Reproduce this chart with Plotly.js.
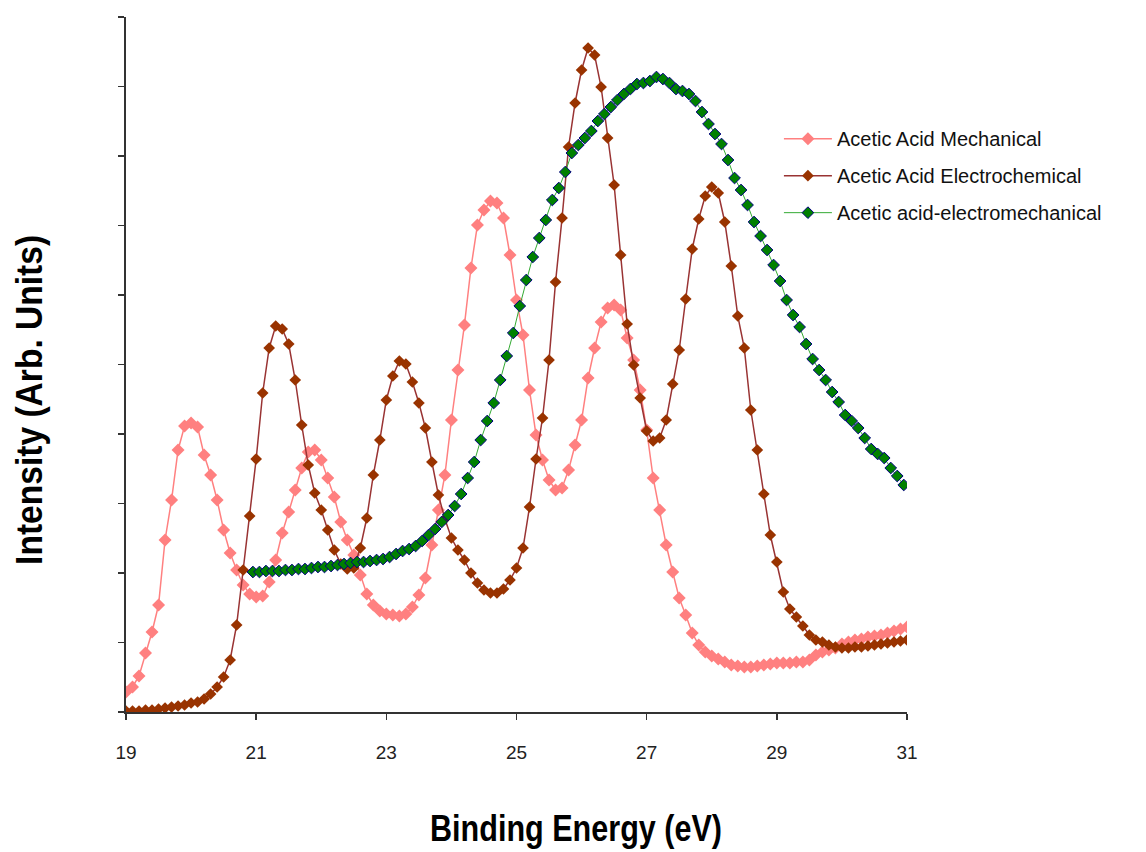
<!DOCTYPE html>
<html>
<head>
<meta charset="utf-8">
<script src="https://cdn.plot.ly/plotly-3.0.1.min.js"></script>
<style>
  html, body { margin: 0; padding: 0; background: #ffffff; }
  #chart { width: 1146px; height: 852px; }
</style>
</head>
<body>
<div id="chart"></div>
<script>
// Binding energy grid (eV) shared by the mechanical and electrochemical spectra
const energyEV = [
  19.0, 19.1, 19.2, 19.3, 19.4, 19.5, 19.6, 19.7, 19.8, 19.9,
  20.0, 20.1, 20.2, 20.3, 20.4, 20.5, 20.6, 20.7, 20.8, 20.9,
  21.0, 21.1, 21.2, 21.3, 21.4, 21.5, 21.6, 21.7, 21.8, 21.9,
  22.0, 22.1, 22.2, 22.3, 22.4, 22.5, 22.6, 22.7, 22.8, 22.9,
  23.0, 23.1, 23.2, 23.3, 23.4, 23.5, 23.6, 23.7, 23.8, 23.9,
  24.0, 24.1, 24.2, 24.3, 24.4, 24.5, 24.6, 24.7, 24.8, 24.9,
  25.0, 25.1, 25.2, 25.3, 25.4, 25.5, 25.6, 25.7, 25.8, 25.9,
  26.0, 26.1, 26.2, 26.3, 26.4, 26.5, 26.6, 26.7, 26.8, 26.9,
  27.0, 27.1, 27.2, 27.3, 27.4, 27.5, 27.6, 27.7, 27.8, 27.9,
  28.0, 28.1, 28.2, 28.3, 28.4, 28.5, 28.6, 28.7, 28.8, 28.9,
  29.0, 29.1, 29.2, 29.3, 29.4, 29.5, 29.6, 29.7, 29.8, 29.9,
  30.0, 30.1, 30.2, 30.3, 30.4, 30.5, 30.6, 30.7, 30.8, 30.9,
  31.0
];

// Acetic acid, mechanical (arb. units)
const mechanical = [
  20, 25, 36, 59, 80, 107, 172, 212, 262, 286,
  289, 285, 257, 237, 212, 182, 159, 142, 127, 118,
  115, 116, 130, 152, 179, 200, 222, 244, 260, 262,
  252, 234, 215, 190, 172, 157, 137, 118, 107, 101,
  98, 97, 96, 98, 105, 117, 134, 167, 202, 237,
  292, 342, 387, 444, 487, 502, 511, 509, 494, 457,
  412, 377, 322, 277, 252, 232, 222, 224, 242, 267,
  292, 334, 364, 390, 404, 407, 402, 374, 352, 322,
  282, 234, 202, 167, 140, 114, 97, 79, 67, 60,
  56, 53, 50, 47, 46, 45, 45, 46, 47, 48,
  49, 49, 49, 50, 50, 52, 57, 60, 62, 64,
  68, 70, 72, 73, 75, 76, 77, 79, 81, 83,
  85
];

// Acetic acid, electrochemical (arb. units)
const electrochemical = [
  1, 1, 1, 2, 2, 3, 4, 5, 6, 7,
  9, 10, 13, 18, 25, 35, 52, 87, 142, 196,
  253, 319, 364, 386, 383, 368, 332, 287, 247, 219,
  202, 182, 162, 148, 143, 144, 164, 194, 237, 272,
  312, 336, 351, 348, 330, 309, 284, 250, 217, 193,
  174, 162, 152, 139, 129, 122, 119, 119, 123, 132,
  144, 164, 205, 253, 294, 352, 430, 494, 565, 609,
  642, 664, 657, 625, 574, 527, 457, 388, 347, 314,
  281, 271, 274, 292, 328, 362, 413, 463, 493, 516,
  525, 519, 490, 446, 396, 364, 302, 262, 218, 177,
  150, 120, 103, 95, 86, 77, 72, 70, 67, 65,
  64, 64, 65, 65, 66, 67, 68, 69, 70, 71,
  72
];

// Binding energy grid (eV) for the electromechanical spectrum
const energyEM = [
  20.95, 21.05, 21.15, 21.25, 21.35, 21.45, 21.55, 21.65, 21.75, 21.85,
  21.95, 22.05, 22.15, 22.25, 22.35, 22.45, 22.55, 22.65, 22.75, 22.85,
  22.95, 23.05, 23.15, 23.25, 23.35, 23.45, 23.55, 23.65, 23.75, 23.85,
  23.95, 24.05, 24.15, 24.25, 24.35, 24.45, 24.55, 24.65, 24.75, 24.85,
  24.95, 25.05, 25.15, 25.25, 25.35, 25.45, 25.55, 25.65, 25.75, 25.85,
  25.95, 26.05, 26.15, 26.25, 26.35, 26.45, 26.55, 26.65, 26.75, 26.85,
  26.95, 27.05, 27.15, 27.25, 27.35, 27.45, 27.55, 27.65, 27.75, 27.85,
  27.95, 28.05, 28.15, 28.25, 28.35, 28.45, 28.55, 28.65, 28.75, 28.85,
  28.95, 29.05, 29.15, 29.25, 29.35, 29.45, 29.55, 29.65, 29.75, 29.85,
  29.95, 30.05, 30.15, 30.25, 30.35, 30.45, 30.55, 30.65, 30.75, 30.85,
  30.95
];

// Acetic acid, electromechanical (arb. units)
const electromechanical = [
  140, 140, 141, 141, 141, 142, 142, 143, 143, 144,
  145, 145, 146, 147, 148, 149, 150, 150, 151, 152,
  153, 155, 158, 161, 163, 166, 171, 177, 183, 190,
  197, 206, 218, 234, 250, 272, 291, 309, 332, 356,
  379, 406, 432, 455, 474, 492, 512, 524, 540, 559,
  567, 574, 581, 591, 598, 605, 612, 618, 623, 628,
  629, 631, 635, 633, 629, 623, 621, 618, 611, 600,
  588, 578, 568, 552, 534, 522, 507, 490, 476, 462,
  447, 431, 412, 397, 385, 368, 353, 342, 332, 320,
  310, 297, 291, 284, 274, 263, 258, 254, 244, 236,
  227
];

const seriesNames = [
  'Acetic Acid Mechanical',
  'Acetic Acid Electrochemical',
  'Acetic acid-electromechanical'
];

const xTicks = [19, 21, 23, 25, 27, 29, 31];

const xTitle = 'Binding Energy (eV)';
const yTitle = 'Intensity (Arb. Units)';

const traces = [
  {
    x: energyEV, y: mechanical, name: seriesNames[0], legendgroup: 'a',
    type: 'scatter', mode: 'lines+markers',
    line: { color: '#FF8080', width: 1.5 },
    marker: { symbol: 'diamond', size: 10, color: '#FF8080' }
  },
  {
    x: energyEV, y: electrochemical, name: seriesNames[1], legendgroup: 'b',
    type: 'scatter', mode: 'lines+markers',
    line: { color: '#993333', width: 1.5 },
    marker: { symbol: 'diamond', size: 9, color: '#993300' }
  },
  {
    x: energyEM, y: electromechanical, name: seriesNames[2], legendgroup: 'c',
    type: 'scatter', mode: 'lines+markers',
    line: { color: '#33AA33', width: 1 },
    marker: { symbol: 'diamond', size: 9, color: '#008000', line: { color: '#000080', width: 1 } }
  }
];

const titleFont = { family: '"Liberation Sans", Arial, sans-serif', size: 36, color: '#000000', weight: 'bold' };

const layout = {
  width: 1146,
  height: 852,
  margin: { l: 126, r: 239, t: 17, b: 140 },
  paper_bgcolor: '#ffffff',
  plot_bgcolor: '#ffffff',
  showlegend: true,
  legend: {
    x: 0.836, y: 0.853, xanchor: 'left', yanchor: 'top',
    traceorder: 'grouped', tracegroupgap: 8,
    itemwidth: 48,
    font: { family: '"Liberation Sans", Arial, sans-serif', size: 20, color: '#111111' },
    bgcolor: 'rgba(0,0,0,0)'
  },
  xaxis: {
    range: [19, 31],
    tickvals: xTicks,
    ticktext: xTicks.map(String),
    ticks: 'outside', ticklen: 6, tickwidth: 1.5, tickcolor: '#333333',
    showline: true, linecolor: '#333333', linewidth: 2,
    showgrid: false, zeroline: false,
    ticklabelstandoff: 16,
    tickfont: { family: '"Liberation Sans", Arial, sans-serif', size: 19, color: '#222222' },
    automargin: false
  },
  yaxis: {
    range: [0, 695],
    tick0: 0, dtick: 69.5,
    ticks: 'outside', ticklen: 6, tickwidth: 1.5, tickcolor: '#333333',
    showticklabels: false,
    showline: true, linecolor: '#333333', linewidth: 2,
    showgrid: false, zeroline: false,
    automargin: false
  },
  annotations: [
    {
      text: xTitle, xref: 'paper', yref: 'paper',
      x: 0.576, y: -0.167, xanchor: 'center', yanchor: 'middle',
      showarrow: false, font: titleFont
    },
    {
      text: yTitle, xref: 'paper', yref: 'paper',
      x: -0.123, y: 0.449, xanchor: 'center', yanchor: 'middle',
      textangle: -90, showarrow: false, font: titleFont
    }
  ]
};

// Axis titles use a condensed bold face: squeeze the glyphs to the set lengths
const titleLengths = {};
titleLengths[xTitle] = 292;
titleLengths[yTitle] = 330;

Plotly.newPlot('chart', traces, layout, { displayModeBar: false, staticPlot: true }).then(function (gd) {
  gd.querySelectorAll('.annotation-text').forEach(function (t) {
    const len = titleLengths[t.textContent];
    if (len) {
      t.setAttribute('textLength', len);
      t.setAttribute('lengthAdjust', 'spacingAndGlyphs');
    }
  });
});
</script>
</body>
</html>
